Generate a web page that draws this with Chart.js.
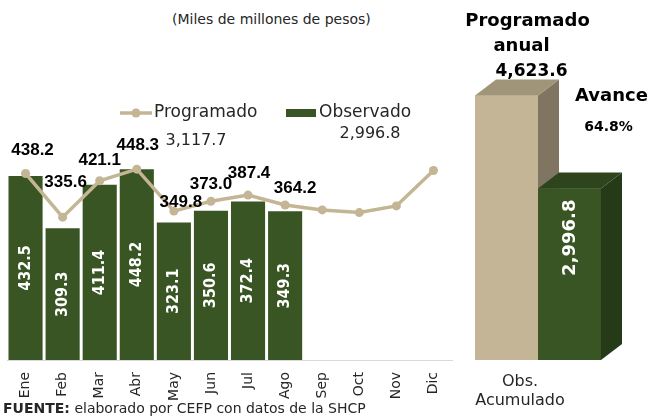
<!DOCTYPE html>
<html>
<head>
<meta charset="utf-8">
<script src="https://cdn.jsdelivr.net/npm/chart.js@4/dist/chart.umd.min.js"></script>
<style>
    body { margin: 0; background: #fff; }
    #page { position: relative; width: 656px; height: 419px; overflow: hidden; }
    canvas { position: absolute; top: 0; }
    .txt { position: absolute; font-family: "DejaVu Sans", sans-serif; color: #262626; white-space: nowrap; }
</style>
</head>
<body>
<div id="page">
    <div class="txt" style="left:172px; top:11px; font-size:14px;">(Miles de millones de pesos)</div>
    <canvas id="mensual" width="460" height="419" style="left:0"></canvas>
    <canvas id="acumulado" width="201" height="419" style="left:455px"></canvas>
    <div class="txt" style="left:3px; top:400px; font-size:14px;"><b>FUENTE:</b> elaborado por CEFP con datos de la SHCP</div>
</div>
<script>
// datos
const meses = [`Ene`, `Feb`, `Mar`, `Abr`, `May`, `Jun`, `Jul`, `Ago`, `Sep`, `Oct`, `Nov`, `Dic`]
const programado = [438.2, 335.6, 421.1, 448.3, 349.8, 373.0, 387.4, 364.2, 352.5, 346.3, 362.0, 445.2]
const observado = [432.5, 309.3, 411.4, 448.2, 323.1, 350.6, 372.4, 349.3]
const programadoAcum = 3117.7
const observadoAcum = 2996.8
const programadoAnual = 4623.6
const etiquetaAcum = [`Obs.`, `Acumulado`]
//
const verde = `#3a5524`
const arena = `#c4b594`
const fmt = v => v.toLocaleString(`en-US`, { minimumFractionDigits: 1, maximumFractionDigits: 1 })
// where each line label sits relative to its point (dx, dy)
const desplazamiento = [[7, -23], [3, -35], [0, -20], [1, -24], [7, -9], [0, -17], [1, -22], [10, -17]]

const etiquetasMensual = {
    id: `etiquetasMensual`,
    afterDatasetsDraw(chart) {
        const ctx = chart.ctx
        ctx.save()
        // white values inside bars
        const barras = chart.getDatasetMeta(1).data
        ctx.fillStyle = `#fff`
        ctx.font = `bold 16px "DejaVu Sans Condensed", "DejaVu Sans", sans-serif`
        ctx.textAlign = `center`
        ctx.textBaseline = `middle`
        barras.forEach((b, i) => {
            ctx.save()
            ctx.translate(b.x, (b.y + b.base) / 2)
            ctx.rotate(-Math.PI / 2)
            ctx.fillText(observado[i].toFixed(1), 0, 0)
            ctx.restore()
        })
        // black values over the line
        const puntos = chart.getDatasetMeta(0).data
        ctx.fillStyle = `#000`
        ctx.font = `bold 17px "Liberation Sans", sans-serif`
        desplazamiento.forEach((d, i) => {
            const p = puntos[i]
            ctx.fillText(programado[i].toFixed(1), p.x + d[0], p.y + d[1])
        })
        // legend
        ctx.strokeStyle = arena
        ctx.lineWidth = 3.5
        ctx.beginPath()
        ctx.moveTo(120, 113)
        ctx.lineTo(152, 113)
        ctx.stroke()
        ctx.fillStyle = arena
        ctx.beginPath()
        ctx.arc(136, 113, 4.5, 0, Math.PI * 2)
        ctx.fill()
        ctx.fillStyle = verde
        ctx.fillRect(286, 109, 30, 8)
        ctx.fillStyle = `#262626`
        ctx.font = `17px "DejaVu Sans", sans-serif`
        ctx.textAlign = `left`
        ctx.fillText(`Programado`, 154, 113)
        ctx.fillText(`Observado`, 319, 113)
        ctx.textAlign = `center`
        ctx.font = `16px "DejaVu Sans", sans-serif`
        ctx.fillText(fmt(programadoAcum), 196, 141)
        ctx.fillText(fmt(observadoAcum), 370, 134)
        ctx.restore()
    }
}

new Chart(`mensual`, {
    type: `bar`,
    data: {
        labels: meses,
        datasets: [{
            type: `line`,
            label: `Programado`,
            data: programado,
            borderColor: arena,
            backgroundColor: arena,
            borderWidth: 3.5,
            pointRadius: 4.5,
            pointBorderWidth: 0,
            tension: 0,
            order: 0
        }, {
            type: `bar`,
            label: `Observado`,
            data: observado,
            backgroundColor: verde,
            categoryPercentage: 1,
            barPercentage: 0.92,
            order: 1
        }]
    },
    options: {
        responsive: false,
        animation: false,
        layout: { padding: { left: 7, right: 8, top: 62, bottom: 0 } },
        plugins: { legend: { display: false }, tooltip: { enabled: false } },
        scales: {
            x: {
                grid: { display: false },
                border: { display: true, color: `#d9d9d9`, width: 1 },
                ticks: {
                    minRotation: 90,
                    maxRotation: 90,
                    padding: 4,
                    color: `#262626`,
                    font: { family: `"DejaVu Sans", sans-serif`, size: 14 }
                },
                afterFit(scale) { scale.height = 59 }
            },
            y: { display: false, min: 0, max: 700 }
        }
    },
    plugins: [etiquetasMensual]
})

// 3d look for the accumulated bars: redraw left to right, each with its side and top
const caras = {
    id: `caras`,
    afterDatasetsDraw(chart, args, opts) {
        const ctx = chart.ctx
        const { dx, dy } = opts
        ctx.save()
        chart.data.datasets.forEach((ds, i) => {
            chart.getDatasetMeta(i).data.forEach(b => {
                b.draw(ctx)
                const izq = b.x - b.width / 2
                const der = b.x + b.width / 2
                ctx.fillStyle = opts.lados[i]
                ctx.beginPath()
                ctx.moveTo(der, b.y)
                ctx.lineTo(der + dx, b.y + dy)
                ctx.lineTo(der + dx, b.base + dy)
                ctx.lineTo(der, b.base)
                ctx.closePath()
                ctx.fill()
                ctx.fillStyle = opts.tapas[i]
                ctx.beginPath()
                ctx.moveTo(izq, b.y)
                ctx.lineTo(izq + dx, b.y + dy)
                ctx.lineTo(der + dx, b.y + dy)
                ctx.lineTo(der, b.y)
                ctx.closePath()
                ctx.fill()
            })
        })
        ctx.restore()
    },
    afterDraw(chart) {
        const ctx = chart.ctx
        const prog = chart.getDatasetMeta(0).data[0]
        const obs = chart.getDatasetMeta(1).data[0]
        ctx.save()
        ctx.textAlign = `center`
        ctx.textBaseline = `middle`
        ctx.fillStyle = `#000`
        ctx.font = `bold 18px "DejaVu Sans", sans-serif`
        ctx.fillText(`Programado`, prog.x + 21, prog.y - 74)
        ctx.fillText(`anual`, prog.x + 15, prog.y - 49)
        ctx.font = `bold 17px "DejaVu Sans", sans-serif`
        ctx.fillText(fmt(programadoAnual), prog.x + 25, prog.y - 24)
        ctx.font = `bold 18px "DejaVu Sans", sans-serif`
        ctx.fillText(`Avance`, obs.x + 42, obs.y - 92)
        ctx.font = `bold 14px "DejaVu Sans", sans-serif`
        ctx.fillText((observadoAcum / programadoAnual * 100).toFixed(1) + `%`, obs.x + 39, obs.y - 61)
        // value inside the green bar
        ctx.fillStyle = `#fff`
        ctx.font = `bold 18px "DejaVu Sans", sans-serif`
        ctx.translate(obs.x + 1, obs.y + 11)
        ctx.rotate(-Math.PI / 2)
        ctx.textAlign = `right`
        ctx.fillText(fmt(observadoAcum), 0, 0)
        ctx.restore()
    }
}

new Chart(`acumulado`, {
    type: `bar`,
    data: {
        labels: [etiquetaAcum],
        datasets: [{
            label: `Programado anual`,
            data: [programadoAnual],
            backgroundColor: `#c4b596`
        }, {
            label: `Observado`,
            data: [observadoAcum],
            backgroundColor: verde
        }]
    },
    options: {
        responsive: false,
        animation: false,
        categoryPercentage: 0.863,
        barPercentage: 1,
        layout: { padding: { left: 10, right: 45, top: 74, bottom: 0 } },
        plugins: {
            legend: { display: false },
            tooltip: { enabled: false },
            caras: { dx: 21, dy: -16, lados: [`#7f7561`, `#253a17`], tapas: [`#a09579`, `#2d441d`] }
        },
        scales: {
            x: {
                grid: { display: false },
                border: { display: false },
                ticks: {
                    labelOffset: -18,
                    padding: 4,
                    color: `#262626`,
                    font: { family: `"DejaVu Sans", sans-serif`, size: 16 }
                },
                afterFit(scale) { scale.height = 59 }
            },
            y: { display: false, min: 0, max: 5000 }
        }
    },
    plugins: [caras]
})
</script>
</body>
</html>
